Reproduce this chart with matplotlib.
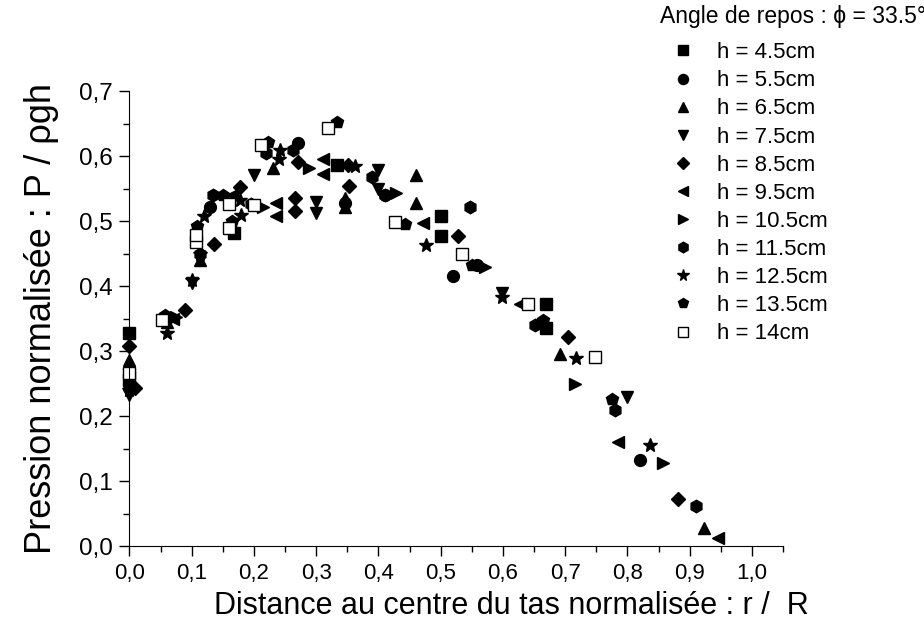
import numpy as np
import matplotlib
matplotlib.use("Agg")
import matplotlib.pyplot as plt
from matplotlib.ticker import MultipleLocator, FuncFormatter
from matplotlib.lines import Line2D

plt.rcParams['font.family'] = ['Liberation Sans', 'DejaVu Sans']

# mesures : r/R et P/rho g h pour chaque hauteur de tas
labels = ["h = 4.5cm", "h = 5.5cm", "h = 6.5cm", "h = 7.5cm", "h = 8.5cm",
          "h = 9.5cm", "h = 10.5cm", "h = 11.5cm", "h = 12.5cm",
          "h = 13.5cm", "h = 14cm"]

x45 = [0.0, 0.168, 0.333, 0.501, 0.501, 0.669, 0.670]
y45 = [0.327, 0.481, 0.586, 0.507, 0.477, 0.372, 0.335]

x55 = [0.0, 0.13, 0.271, 0.41, 0.52, 0.558, 0.82, 0.346]
y55 = [0.250, 0.522, 0.620, 0.540, 0.415, 0.432, 0.133, 0.527]

x65 = [0.0, 0.0, 0.06, 0.114, 0.231, 0.346, 0.346, 0.461, 0.461, 0.692, 0.923]
y65 = [0.286, 0.278, 0.345, 0.440, 0.581, 0.535, 0.522, 0.571, 0.528, 0.296, 0.027]

x75 = [0.0, 0.1, 0.2, 0.3, 0.3, 0.4, 0.4, 0.598, 0.8]
y75 = [0.232, 0.405, 0.571, 0.530, 0.512, 0.578, 0.550, 0.389, 0.230]

x85 = [0.0, 0.009, 0.089, 0.136, 0.178, 0.266, 0.266, 0.271, 0.351, 0.353,
       0.528, 0.705, 0.882]
y85 = [0.307, 0.243, 0.363, 0.464, 0.553, 0.535, 0.516, 0.591, 0.586, 0.554,
       0.477, 0.322, 0.073]

x95 = [0.0, 0.07, 0.165, 0.236, 0.236, 0.311, 0.311, 0.471, 0.627, 0.785, 0.946]
y95 = [0.260, 0.350, 0.540, 0.527, 0.507, 0.595, 0.573, 0.497, 0.373, 0.160, 0.012]

x105 = [0.0, 0.075, 0.215, 0.288, 0.429, 0.571, 0.716, 0.858]
y105 = [0.255, 0.352, 0.522, 0.581, 0.543, 0.430, 0.249, 0.127]

x115 = [0.0, 0.113, 0.135, 0.196, 0.22, 0.263, 0.389, 0.41, 0.547, 0.651,
        0.78, 0.911]
y115 = [0.245, 0.450, 0.540, 0.526, 0.604, 0.609, 0.568, 0.540, 0.522, 0.340,
        0.209, 0.062]

x125 = [0.0, 0.06, 0.1, 0.113, 0.12, 0.178, 0.18, 0.241, 0.242, 0.362,
        0.477, 0.598, 0.718, 0.837]
y125 = [0.240, 0.327, 0.410, 0.450, 0.507, 0.532, 0.509, 0.595, 0.609, 0.585,
        0.463, 0.383, 0.290, 0.156]

x135 = [0.0, 0.057, 0.108, 0.15, 0.165, 0.223, 0.333, 0.443, 0.55, 0.665, 0.775]
y135 = [0.270, 0.355, 0.493, 0.540, 0.500, 0.622, 0.653, 0.495, 0.432, 0.348, 0.226]

x140 = [0.0, 0.053, 0.107, 0.107, 0.16, 0.16, 0.2, 0.212, 0.319, 0.426,
        0.534, 0.641, 0.748]
y140 = [0.266, 0.348, 0.468, 0.478, 0.526, 0.490, 0.525, 0.617, 0.643, 0.498,
        0.449, 0.373, 0.291]

xs = [x45, x55, x65, x75, x85, x95, x105, x115, x125, x135, x140]
ys = [y45, y55, y65, y75, y85, y95, y105, y115, y125, y135, y140]

markers = ['s', 'o', '^', 'v', 'D', '<', '>', 'h', '*', 'p', 's']
sizes = [8, 8.5, 9, 9, 7.5, 9, 9, 9, 10, 9, 8]

fig = plt.figure(figsize=(9.24, 6.39), dpi=100)
ax = fig.add_axes([0.1401, 0.1455, 0.7073, 0.712])

for i in range(len(xs)):
    face = 'white' if i == 10 else 'black'
    ax.plot(xs[i], ys[i], linestyle='none', marker=markers[i],
            markersize=sizes[i], markerfacecolor=face,
            markeredgecolor='black', markeredgewidth=1.0, clip_on=False)

ax.set_xlim(0, 1.05)
ax.set_ylim(0, 0.7)
ax.spines['top'].set_visible(False)
ax.spines['right'].set_visible(False)

ax.xaxis.set_major_locator(MultipleLocator(0.1))
ax.xaxis.set_minor_locator(MultipleLocator(0.05))
ax.yaxis.set_major_locator(MultipleLocator(0.1))
ax.yaxis.set_minor_locator(MultipleLocator(0.05))
comma = FuncFormatter(lambda v, p: f"{v:.1f}".replace('.', ','))
ax.xaxis.set_major_formatter(comma)
ax.yaxis.set_major_formatter(comma)
ax.tick_params(which='major', direction='out', length=7, width=1)
ax.tick_params(which='minor', direction='out', length=4, width=1)
ax.tick_params(axis='x', labelsize=16, pad=5)
ax.tick_params(axis='y', labelsize=17.5, pad=5)
ax.set_xticks([v for v in np.arange(0, 1.0001, 0.1)])

ax.set_xlabel("Distance au centre du tas normalisée : r /  R", fontsize=22)
ax.xaxis.set_label_coords(0.585, -0.098)
ax.set_ylabel("Pression normalisée : P / ρgh", fontsize=26)
ax.yaxis.set_label_coords(-0.108, 0.5)

handles = []
for i in range(len(labels)):
    face = 'white' if i == 10 else 'black'
    handles.append(Line2D([], [], linestyle='none', marker=markers[i],
                          markersize=sizes[i] * 0.85, markerfacecolor=face,
                          markeredgecolor='black', markeredgewidth=1.0))

fig.text(0.714, 0.974, "Angle de repos : ϕ = 33.5°", fontsize=16.5,
         ha='left', va='center')
fig.legend(handles, labels, loc='upper left', bbox_to_anchor=(0.725, 0.934),
           frameon=False, fontsize=16, handletextpad=0.92, labelspacing=0.32,
           handlelength=1.2, borderpad=0, borderaxespad=0)

fig.savefig("out.png", dpi=100)
